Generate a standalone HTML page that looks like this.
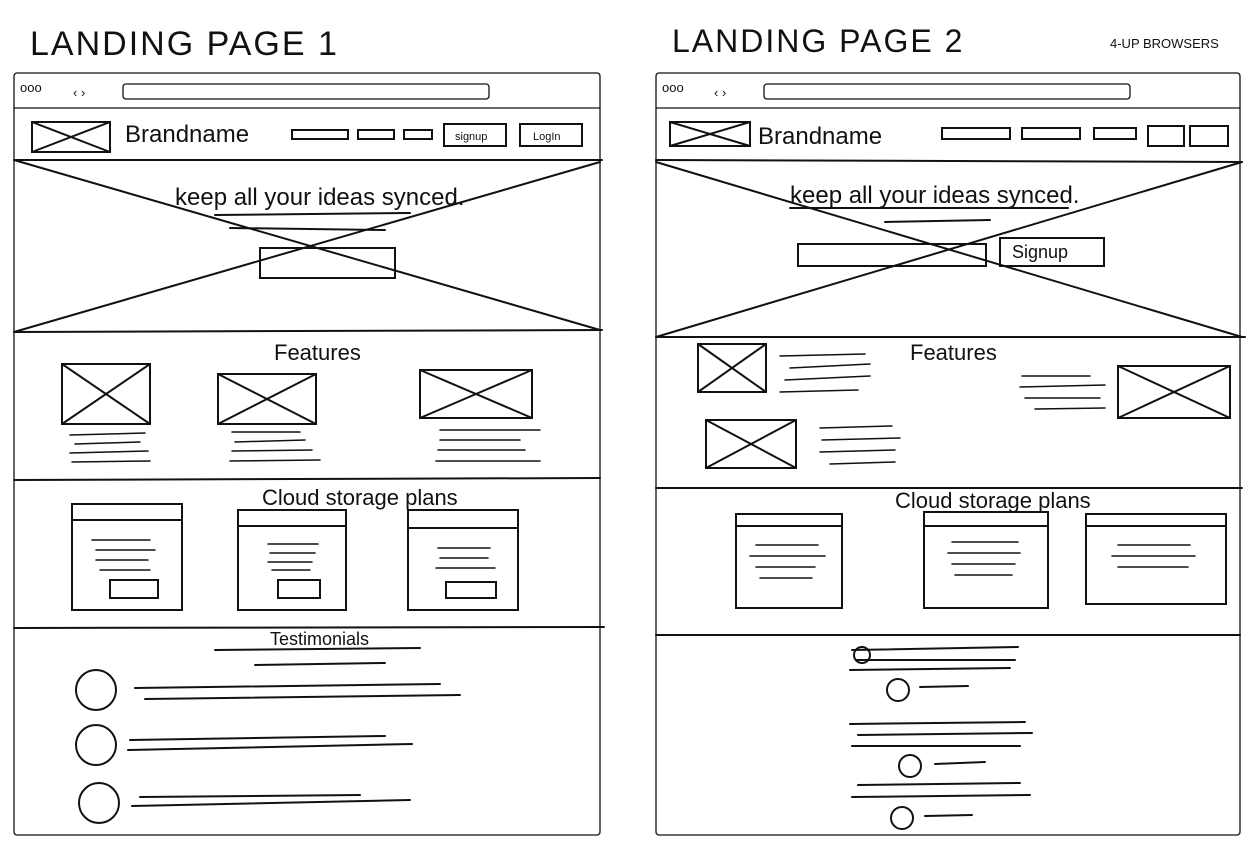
<!DOCTYPE html>
<html><head><meta charset="utf-8"><style>
html,body{margin:0;padding:0;background:#fff;}
svg{display:block;}
text{font-family:"Liberation Sans",sans-serif;fill:#111;}
</style></head><body>
<svg width="1257" height="847" viewBox="0 0 1257 847" xmlns="http://www.w3.org/2000/svg" stroke="#111" fill="none" stroke-linecap="round">
<text x="30" y="55" font-size="34" stroke="none" letter-spacing="2">LANDING PAGE 1</text>
<text x="672" y="52" font-size="32" stroke="none" letter-spacing="2">LANDING PAGE 2</text>
<text x="1110" y="48" font-size="13" stroke="none">4-UP BROWSERS</text>

<!-- LEFT BROWSER -->
<g stroke-width="1.3">
<rect x="14" y="73" width="586" height="762" rx="3"/>
<line x1="14" y1="108" x2="600" y2="108"/>
<rect x="123" y="84" width="366" height="15" rx="3"/>
</g>
<text x="20" y="92" font-size="13" stroke="none">ooo</text>
<text x="73" y="97" font-size="13" stroke="none">‹ ›</text>
<g stroke-width="2">
<line x1="14" y1="160" x2="602" y2="160"/>
<line x1="14" y1="332" x2="602" y2="330"/>
<line x1="14" y1="480" x2="600" y2="478"/>
<line x1="14" y1="628" x2="604" y2="627"/>
<rect x="32" y="122" width="78" height="30"/><line x1="32" y1="122" x2="110" y2="152"/><line x1="32" y1="152" x2="110" y2="122"/>
<rect x="292" y="130" width="56" height="9"/><rect x="358" y="130" width="36" height="9"/><rect x="404" y="130" width="28" height="9"/>
<rect x="444" y="124" width="62" height="22"/><rect x="520" y="124" width="62" height="22"/>
<line x1="14" y1="160" x2="600" y2="330"/><line x1="14" y1="332" x2="600" y2="162"/>
<rect x="260" y="248" width="135" height="30"/>
<line x1="215" y1="215" x2="410" y2="213"/><line x1="230" y1="228" x2="385" y2="230"/>
</g>
<text x="125" y="142" font-size="24" stroke="none">Brandname</text>
<text x="455" y="140" font-size="11" stroke="none">signup</text>
<text x="533" y="140" font-size="11" stroke="none">LogIn</text>
<text x="175" y="205" font-size="24" stroke="none">keep all your ideas synced.</text>
<text x="274" y="360" font-size="22" stroke="none">Features</text>
<g stroke-width="2">
<rect x="62" y="364" width="88" height="60"/><line x1="62" y1="364" x2="150" y2="424"/><line x1="62" y1="424" x2="150" y2="364"/>
<rect x="218" y="374" width="98" height="50"/><line x1="218" y1="374" x2="316" y2="424"/><line x1="218" y1="424" x2="316" y2="374"/>
<rect x="420" y="370" width="112" height="48"/><line x1="420" y1="370" x2="532" y2="418"/><line x1="420" y1="418" x2="532" y2="370"/>
<g stroke-width="1.5">
<line x1="70" y1="435" x2="145" y2="433"/><line x1="75" y1="444" x2="140" y2="442"/><line x1="70" y1="453" x2="148" y2="451"/><line x1="72" y1="462" x2="150" y2="461"/>
<line x1="232" y1="432" x2="300" y2="432"/><line x1="235" y1="442" x2="305" y2="440"/><line x1="232" y1="451" x2="312" y2="450"/><line x1="230" y1="461" x2="320" y2="460"/>
<line x1="440" y1="430" x2="540" y2="430"/><line x1="440" y1="440" x2="520" y2="440"/><line x1="438" y1="450" x2="525" y2="450"/><line x1="436" y1="461" x2="540" y2="461"/>
</g>
</g>
<text x="262" y="505" font-size="22" stroke="none">Cloud storage plans</text>
<g stroke-width="2">
<rect x="72" y="504" width="110" height="106"/><line x1="72" y1="520" x2="182" y2="520"/><rect x="110" y="580" width="48" height="18"/>
<rect x="238" y="510" width="108" height="100"/><line x1="238" y1="526" x2="346" y2="526"/><rect x="278" y="580" width="42" height="18"/>
<rect x="408" y="510" width="110" height="100"/><line x1="408" y1="528" x2="518" y2="528"/><rect x="446" y="582" width="50" height="16"/>
<g stroke-width="1.5">
<line x1="92" y1="540" x2="150" y2="540"/><line x1="96" y1="550" x2="155" y2="550"/><line x1="96" y1="560" x2="148" y2="560"/><line x1="100" y1="570" x2="150" y2="570"/>
<line x1="268" y1="544" x2="318" y2="544"/><line x1="270" y1="553" x2="315" y2="553"/><line x1="268" y1="562" x2="312" y2="562"/><line x1="272" y1="570" x2="310" y2="570"/>
<line x1="438" y1="548" x2="490" y2="548"/><line x1="440" y1="558" x2="488" y2="558"/><line x1="436" y1="568" x2="495" y2="568"/>
</g>
</g>
<text x="270" y="645" font-size="18" stroke="none">Testimonials</text>
<g stroke-width="2">
<line x1="215" y1="650" x2="420" y2="648"/><line x1="255" y1="665" x2="385" y2="663"/>
<circle cx="96" cy="690" r="20"/><circle cx="96" cy="745" r="20"/><circle cx="99" cy="803" r="20"/>
<line x1="135" y1="688" x2="440" y2="684"/><line x1="145" y1="699" x2="460" y2="695"/>
<line x1="130" y1="740" x2="385" y2="736"/><line x1="128" y1="750" x2="412" y2="744"/>
<line x1="140" y1="797" x2="360" y2="795"/><line x1="132" y1="806" x2="410" y2="800"/>
</g>

<!-- RIGHT BROWSER -->
<g stroke-width="1.3">
<rect x="656" y="73" width="584" height="762" rx="3"/>
<line x1="656" y1="108" x2="1240" y2="108"/>
<rect x="764" y="84" width="366" height="15" rx="3"/>
</g>
<text x="662" y="92" font-size="13" stroke="none">ooo</text>
<text x="714" y="97" font-size="13" stroke="none">‹ ›</text>
<g stroke-width="2">
<line x1="656" y1="160" x2="1242" y2="162"/>
<line x1="656" y1="337" x2="1245" y2="337"/>
<line x1="656" y1="488" x2="1242" y2="488"/>
<line x1="656" y1="635" x2="1240" y2="635"/>
<rect x="670" y="122" width="80" height="24"/><line x1="670" y1="122" x2="750" y2="146"/><line x1="670" y1="146" x2="750" y2="122"/>
<rect x="942" y="128" width="68" height="11"/><rect x="1022" y="128" width="58" height="11"/><rect x="1094" y="128" width="42" height="11"/><rect x="1148" y="126" width="36" height="20"/><rect x="1190" y="126" width="38" height="20"/>
<line x1="656" y1="162" x2="1242" y2="337"/><line x1="656" y1="337" x2="1242" y2="162"/>
<rect x="798" y="244" width="188" height="22"/><rect x="1000" y="238" width="104" height="28"/>
<line x1="790" y1="208" x2="1068" y2="208"/><line x1="885" y1="222" x2="990" y2="220"/>
</g>
<text x="758" y="144" font-size="24" stroke="none">Brandname</text>
<text x="790" y="203" font-size="24" stroke="none">keep all your ideas synced.</text>
<text x="1012" y="258" font-size="18" stroke="none">Signup</text>
<text x="910" y="360" font-size="22" stroke="none">Features</text>
<g stroke-width="2">
<rect x="698" y="344" width="68" height="48"/><line x1="698" y1="344" x2="766" y2="392"/><line x1="698" y1="392" x2="766" y2="344"/>
<rect x="1118" y="366" width="112" height="52"/><line x1="1118" y1="366" x2="1230" y2="418"/><line x1="1118" y1="418" x2="1230" y2="366"/>
<rect x="706" y="420" width="90" height="48"/><line x1="706" y1="420" x2="796" y2="468"/><line x1="706" y1="468" x2="796" y2="420"/>
<g stroke-width="1.5">
<line x1="780" y1="356" x2="865" y2="354"/><line x1="790" y1="368" x2="870" y2="364"/><line x1="785" y1="380" x2="870" y2="376"/><line x1="780" y1="392" x2="858" y2="390"/>
<line x1="1022" y1="376" x2="1090" y2="376"/><line x1="1020" y1="387" x2="1105" y2="385"/><line x1="1025" y1="398" x2="1100" y2="398"/><line x1="1035" y1="409" x2="1105" y2="408"/>
<line x1="820" y1="428" x2="892" y2="426"/><line x1="822" y1="440" x2="900" y2="438"/><line x1="820" y1="452" x2="895" y2="450"/><line x1="830" y1="464" x2="895" y2="462"/>
</g>
</g>
<text x="895" y="508" font-size="22" stroke="none">Cloud storage plans</text>
<g stroke-width="2">
<rect x="736" y="514" width="106" height="94"/><line x1="736" y1="526" x2="842" y2="526"/>
<rect x="924" y="512" width="124" height="96"/><line x1="924" y1="526" x2="1048" y2="526"/>
<rect x="1086" y="514" width="140" height="90"/><line x1="1086" y1="526" x2="1226" y2="526"/>
<g stroke-width="1.5">
<line x1="756" y1="545" x2="818" y2="545"/><line x1="750" y1="556" x2="825" y2="556"/><line x1="756" y1="567" x2="815" y2="567"/><line x1="760" y1="578" x2="812" y2="578"/>
<line x1="952" y1="542" x2="1018" y2="542"/><line x1="948" y1="553" x2="1020" y2="553"/><line x1="952" y1="564" x2="1015" y2="564"/><line x1="955" y1="575" x2="1012" y2="575"/>
<line x1="1118" y1="545" x2="1190" y2="545"/><line x1="1112" y1="556" x2="1195" y2="556"/><line x1="1118" y1="567" x2="1188" y2="567"/>
</g>
</g>
<g stroke-width="2">
<line x1="852" y1="650" x2="1018" y2="647"/><line x1="856" y1="660" x2="1015" y2="660"/><line x1="850" y1="670" x2="1010" y2="668"/>
<circle cx="862" cy="655" r="8"/><circle cx="898" cy="690" r="11"/><line x1="920" y1="687" x2="968" y2="686"/>
<line x1="850" y1="724" x2="1025" y2="722"/><line x1="858" y1="735" x2="1032" y2="733"/><line x1="852" y1="746" x2="1020" y2="746"/>
<circle cx="910" cy="766" r="11"/><line x1="935" y1="764" x2="985" y2="762"/>
<line x1="858" y1="785" x2="1020" y2="783"/><line x1="852" y1="797" x2="1030" y2="795"/>
<circle cx="902" cy="818" r="11"/><line x1="925" y1="816" x2="972" y2="815"/>
</g>
</svg>
</body></html>
